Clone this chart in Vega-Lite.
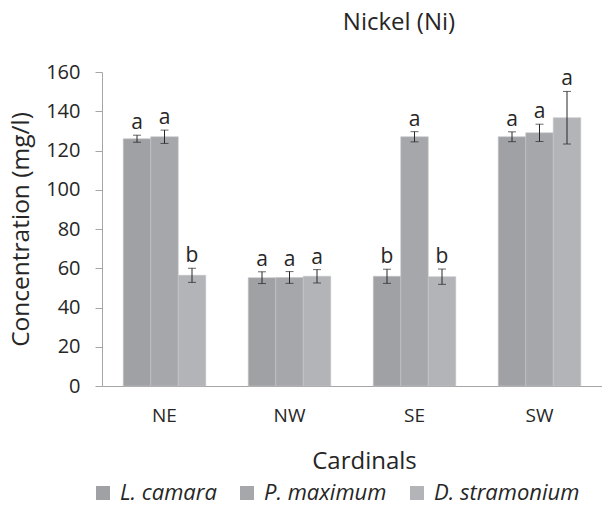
{
  "$schema": "https://vega.github.io/schema/vega-lite/v6.json",
  "width": 500,
  "height": 314,
  "autosize": "none",
  "padding": {"left": 102, "top": 72, "right": 0, "bottom": 119},
  "background": "white",
  "config": {
    "view": {"stroke": null},
    "font": "Open Sans",
    "axis": {"grid": false, "domainColor": "#a6a6a6", "tickColor": "#a6a6a6", "labelColor": "#262626", "titleColor": "#262626", "labelFont": "Open Sans", "titleFont": "Open Sans", "titleFontWeight": "normal"}
  },
  "title": {"text": "Nickel (Ni)", "fontSize": 24, "font": "Open Sans", "fontWeight": "normal", "color": "#262626", "anchor": "middle", "dx": 47, "offset": 27},
  "data": {
    "values": [
      {"cardinal": "NE", "species": "L. camara", "mean": 126, "lo": 124.2, "hi": 127.8, "letter": "a"},
      {"cardinal": "NE", "species": "P. maximum", "mean": 127, "lo": 123.6, "hi": 130.4, "letter": "a"},
      {"cardinal": "NE", "species": "D. stramonium", "mean": 56.4, "lo": 52.8, "hi": 60, "letter": "b"},
      {"cardinal": "NW", "species": "L. camara", "mean": 55.2, "lo": 52.2, "hi": 58.2, "letter": "a"},
      {"cardinal": "NW", "species": "P. maximum", "mean": 55.3, "lo": 52.3, "hi": 58.3, "letter": "a"},
      {"cardinal": "NW", "species": "D. stramonium", "mean": 55.9, "lo": 52.5, "hi": 59.3, "letter": "a"},
      {"cardinal": "SE", "species": "L. camara", "mean": 55.9, "lo": 52.3, "hi": 59.5, "letter": "b"},
      {"cardinal": "SE", "species": "P. maximum", "mean": 127, "lo": 124.4, "hi": 129.6, "letter": "a"},
      {"cardinal": "SE", "species": "D. stramonium", "mean": 55.7, "lo": 51.8, "hi": 59.6, "letter": "b"},
      {"cardinal": "SW", "species": "L. camara", "mean": 127, "lo": 124.5, "hi": 129.5, "letter": "a"},
      {"cardinal": "SW", "species": "P. maximum", "mean": 129, "lo": 124.6, "hi": 133.4, "letter": "a"},
      {"cardinal": "SW", "species": "D. stramonium", "mean": 136.7, "lo": 123.3, "hi": 150.1, "letter": "a"}
    ]
  },
  "encoding": {
    "x": {
      "field": "cardinal", "type": "nominal", "sort": ["NE", "NW", "SE", "SW"],
      "scale": {"paddingInner": 0.34, "paddingOuter": 0.17},
      "axis": {"title": "Cardinals", "labelAngle": 0, "labelFontSize": 19, "labelPadding": 20, "ticks": false, "titleFontSize": 24, "titlePadding": 24, "titleX": 262}
    },
    "xOffset": {"field": "species", "type": "nominal", "sort": ["L. camara", "P. maximum", "D. stramonium"]}
  },
  "layer": [
    {
      "mark": {"type": "bar", "stroke": "#c4c4c7", "strokeWidth": 0.6},
      "encoding": {
        "y": {
          "field": "mean", "type": "quantitative",
          "scale": {"domain": [0, 160], "nice": false},
          "axis": {"title": "Concentration (mg/l)", "values": [0, 20, 40, 60, 80, 100, 120, 140, 160], "labelOverlap": false, "labelFontSize": 20, "tickSize": 7, "labelPadding": 15, "titleFontSize": 24.5, "titlePadding": 12}
        },
        "color": {
          "field": "species", "type": "nominal", "sort": ["L. camara", "P. maximum", "D. stramonium"],
          "scale": {"domain": ["L. camara", "P. maximum", "D. stramonium"], "range": ["#a0a1a5", "#a6a7ab", "#b3b4b8"]},
          "legend": {"title": null, "orient": "none", "legendX": -10, "legendY": 410, "direction": "horizontal", "symbolType": "square", "symbolSize": 196, "symbolStrokeWidth": 0, "labelFontSize": 22, "labelFontStyle": "italic", "labelColor": "#262626", "columnPadding": 19, "labelOffset": 6}
        }
      }
    },
    {
      "mark": {"type": "rule", "color": "#262626", "strokeWidth": 1},
      "encoding": {
        "y": {"field": "lo", "type": "quantitative", "scale": {"domain": [0, 160], "nice": false}, "axis": {"title": "Concentration (mg/l)", "values": [0, 20, 40, 60, 80, 100, 120, 140, 160], "labelOverlap": false, "labelFontSize": 20, "tickSize": 7, "labelPadding": 15, "titleFontSize": 24.5, "titlePadding": 12}},
        "y2": {"field": "hi"}
      }
    },
    {
      "mark": {"type": "tick", "color": "#262626", "thickness": 1, "size": 8, "orient": "horizontal"},
      "encoding": {"y": {"field": "lo", "type": "quantitative", "scale": {"domain": [0, 160], "nice": false}, "axis": {"title": "Concentration (mg/l)", "values": [0, 20, 40, 60, 80, 100, 120, 140, 160], "labelOverlap": false, "labelFontSize": 20, "tickSize": 7, "labelPadding": 15, "titleFontSize": 24.5, "titlePadding": 12}}}
    },
    {
      "mark": {"type": "tick", "color": "#262626", "thickness": 1, "size": 8, "orient": "horizontal"},
      "encoding": {"y": {"field": "hi", "type": "quantitative", "scale": {"domain": [0, 160], "nice": false}, "axis": {"title": "Concentration (mg/l)", "values": [0, 20, 40, 60, 80, 100, 120, 140, 160], "labelOverlap": false, "labelFontSize": 20, "tickSize": 7, "labelPadding": 15, "titleFontSize": 24.5, "titlePadding": 12}}}
    },
    {
      "mark": {"type": "text", "fontSize": 21, "color": "#262626", "baseline": "alphabetic", "dy": -6},
      "encoding": {"y": {"field": "hi", "type": "quantitative", "scale": {"domain": [0, 160], "nice": false}, "axis": {"title": "Concentration (mg/l)", "values": [0, 20, 40, 60, 80, 100, 120, 140, 160], "labelOverlap": false, "labelFontSize": 20, "tickSize": 7, "labelPadding": 15, "titleFontSize": 24.5, "titlePadding": 12}}, "text": {"field": "letter"}}
    }
  ]
}
